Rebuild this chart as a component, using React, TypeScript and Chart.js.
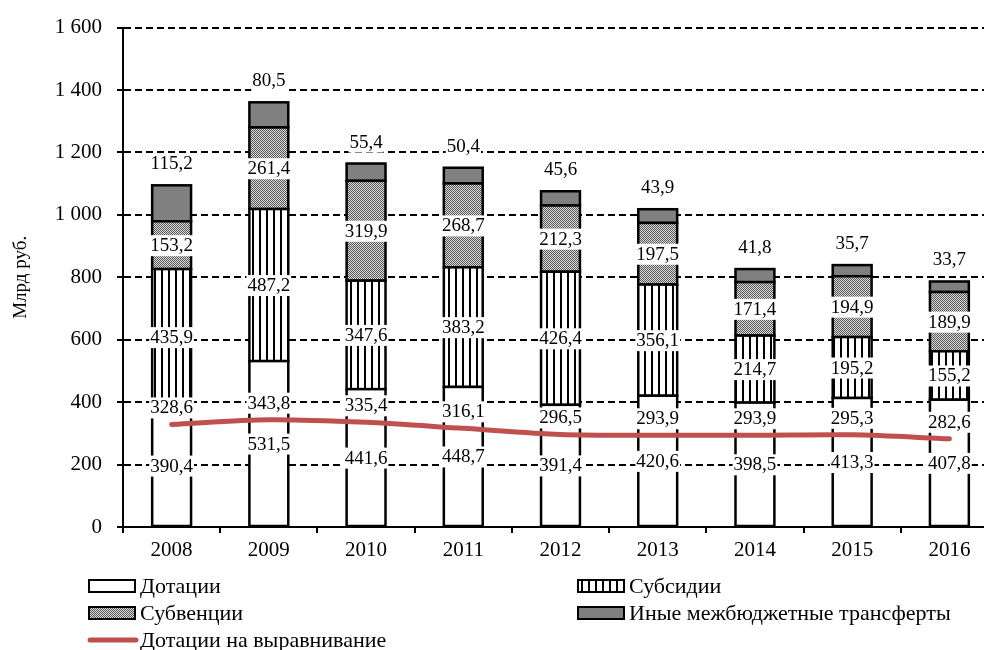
import React, { useEffect, useRef } from "react";
import { Chart, registerables } from "chart.js";

Chart.register(...registerables);

const years = ["2008", "2009", "2010", "2011", "2012", "2013", "2014", "2015", "2016"];
const dotations = [390.4, 531.5, 441.6, 448.7, 391.4, 420.6, 398.5, 413.3, 407.8];
const subsidies = [435.9, 487.2, 347.6, 383.2, 426.4, 356.1, 214.7, 195.2, 155.2];
const subventions = [153.2, 261.4, 319.9, 268.7, 212.3, 197.5, 171.4, 194.9, 189.9];
const otherTransfers = [115.2, 80.5, 55.4, 50.4, 45.6, 43.9, 41.8, 35.7, 33.7];
const equalization = [328.6, 343.8, 335.4, 316.1, 296.5, 293.9, 293.9, 295.3, 282.6];

const seriesNames = [
  "Дотации",
  "Субсидии",
  "Субвенции",
  "Иные межбюджетные трансферты",
  "Дотации на выравнивание",
];
const yTicks = [0, 200, 400, 600, 800, 1000, 1200, 1400, 1600];

const FONT = '"Liberation Serif", "Times New Roman", serif';

const fmt = (v: number) => v.toFixed(1).replace(".", ",");
const fmtTick = (v: number) =>
  v >= 1000 ? `${Math.floor(v / 1000)} ${String(v % 1000).padStart(3, "0")}` : String(v);

function makeStripe(ctx: CanvasRenderingContext2D) {
  const c = document.createElement("canvas");
  c.width = 7;
  c.height = 4;
  const g = c.getContext("2d")!;
  g.fillStyle = "#fff";
  g.fillRect(0, 0, 7, 4);
  g.fillStyle = "#000";
  g.fillRect(0, 0, 2, 4);
  return ctx.createPattern(c, "repeat")!;
}

function makeDots(ctx: CanvasRenderingContext2D) {
  const c = document.createElement("canvas");
  c.width = 2;
  c.height = 2;
  const g = c.getContext("2d")!;
  g.fillStyle = "#d8d8d8";
  g.fillRect(0, 0, 2, 2);
  g.fillStyle = "#5a5a5a";
  g.fillRect(0, 0, 1, 1);
  g.fillRect(1, 1, 1, 1);
  return ctx.createPattern(c, "repeat")!;
}

export default function App() {
  const ref = useRef<HTMLCanvasElement | null>(null);

  useEffect(() => {
    const canvas = ref.current!;
    const ctx = canvas.getContext("2d")!;
    const stripe = makeStripe(ctx);
    const dots = makeDots(ctx);
    const fills: any[] = ["#ffffff", stripe, dots, "#808080"];
    const lineColor = "#C0504D";

    const outlinePlugin = {
      id: "barOutlines",
      afterDatasetDraw(chart: any, args: any) {
        const meta = args.meta;
        if (meta.type !== "bar") return;
        const c = chart.ctx;
        c.save();
        c.strokeStyle = "#000";
        c.lineWidth = 2.5;
        meta.data.forEach((el: any) => {
          const left = el.x - el.width / 2;
          const top = Math.min(el.y, el.base);
          const h = Math.abs(el.base - el.y);
          c.strokeRect(left, top, el.width, h);
        });
        c.restore();
      },
    };

    const labelPlugin = {
      id: "valueLabels",
      afterDatasetsDraw(chart: any) {
        const c = chart.ctx;
        c.save();
        c.font = `19px ${FONT}`;
        c.textAlign = "center";
        c.textBaseline = "middle";
        chart.data.datasets.forEach((ds: any, di: number) => {
          const meta = chart.getDatasetMeta(di);
          meta.data.forEach((el: any, i: number) => {
            const v = ds.data[i];
            const txt = fmt(v);
            const x = el.x;
            let y: number;
            if (ds.type === "line") y = el.y - 17;
            else if (di === 3) y = el.y - 22;
            else y = (el.y + el.base) / 2;
            const w = c.measureText(txt).width + 2;
            c.fillStyle = "#fff";
            c.fillRect(x - w / 2, y - 10, w, 21);
            c.fillStyle = "#000";
            c.fillText(txt, x, y + 1);
          });
        });
        c.restore();
      },
    };

    const legendPlugin = {
      id: "customLegend",
      afterDraw(chart: any) {
        const c = chart.ctx;
        c.save();
        c.font = `22px ${FONT}`;
        c.textBaseline = "middle";
        c.textAlign = "left";
        const items = [
          { i: 0, x: 89, y: 586 },
          { i: 1, x: 578, y: 586 },
          { i: 2, x: 89, y: 613 },
          { i: 3, x: 578, y: 613 },
          { i: 4, x: 89, y: 640 },
        ];
        items.forEach((it) => {
          if (it.i < 4) {
            c.fillStyle = fills[it.i];
            c.fillRect(it.x, it.y - 6, 46, 12);
            c.strokeStyle = "#000";
            c.lineWidth = 2;
            c.strokeRect(it.x, it.y - 6, 46, 12);
          } else {
            c.strokeStyle = lineColor;
            c.lineWidth = 5;
            c.lineCap = "round";
            c.beginPath();
            c.moveTo(it.x + 1, it.y);
            c.lineTo(it.x + 47, it.y);
            c.stroke();
          }
          c.fillStyle = "#000";
          c.fillText(seriesNames[it.i], it.x + 51, it.y + 1);
        });
        c.restore();
      },
    };

    const barData = [dotations, subsidies, subventions, otherTransfers];
    const datasets: any[] = barData.map((d, k) => ({
      type: "bar",
      label: seriesNames[k],
      data: d,
      backgroundColor: fills[k],
      borderWidth: 0,
      stack: "bars",
      order: 1,
      barPercentage: 0.4,
      categoryPercentage: 1,
    }));
    datasets.push({
      type: "line",
      label: seriesNames[4],
      data: equalization,
      borderColor: lineColor,
      backgroundColor: lineColor,
      borderWidth: 5,
      pointRadius: 0,
      tension: 0.3,
      stack: "line",
      order: 0,
      borderCapStyle: "round",
    });

    const chart = new Chart(canvas, {
      type: "bar",
      data: { labels: years, datasets },
      options: {
        responsive: false,
        maintainAspectRatio: false,
        animation: false,
        layout: { padding: { left: 0, top: 23, right: 2, bottom: 83 } },
        plugins: {
          legend: { display: false },
          tooltip: { enabled: false },
        },
        scales: {
          x: {
            stacked: true,
            offset: true,
            afterFit: (s: any) => {
              s.height = 40;
            },
            grid: {
              offset: true,
              drawOnChartArea: false,
              drawTicks: true,
              tickLength: 6,
              color: "#000",
              lineWidth: 2,
            },
            border: { display: true, color: "#000", width: 2 },
            ticks: {
              color: "#000",
              font: { family: FONT, size: 21 },
              padding: 5,
              maxRotation: 0,
            },
          },
          y: {
            stacked: true,
            min: 0,
            max: 1600,
            afterFit: (s: any) => {
              s.width = 123;
            },
            afterBuildTicks: (s: any) => {
              s.ticks = yTicks.map((v) => ({ value: v }));
            },
            grid: {
              color: "#000",
              lineWidth: 2,
              drawTicks: true,
              tickLength: 6,
              tickColor: "#000",
              tickWidth: 2,
              tickBorderDash: [],
            },
            border: { display: true, color: "#000", width: 2, dash: [7, 4] },
            ticks: {
              color: "#000",
              font: { family: FONT, size: 21 },
              padding: 15,
              callback: (v: any) => fmtTick(Number(v)),
            },
            title: {
              display: true,
              text: "Млрд руб.",
              color: "#000",
              font: { family: FONT, size: 19 },
              padding: { top: 10, bottom: 0 },
            },
          },
        },
      } as any,
      plugins: [outlinePlugin, labelPlugin, legendPlugin],
    });

    return () => chart.destroy();
  }, []);

  return (
    <div
      style={{
        position: "fixed",
        left: 0,
        top: 0,
        width: 984,
        height: 650,
        overflow: "hidden",
        background: "#fff",
      }}
    >
      <canvas ref={ref} width={1000} height={650} style={{ display: "block" }} />
    </div>
  );
}
